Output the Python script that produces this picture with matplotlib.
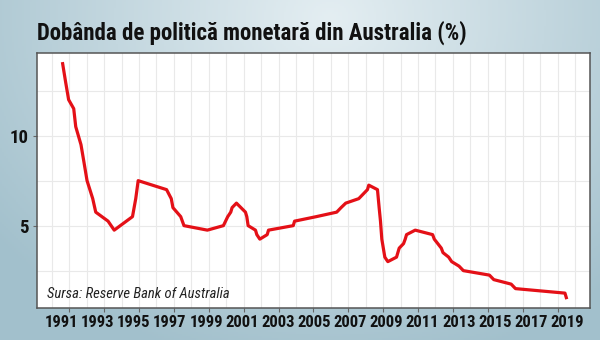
import matplotlib
matplotlib.use('Agg')
import matplotlib.pyplot as plt
import matplotlib.dates as mdates
import matplotlib.transforms as mtransforms
import numpy as np
import pandas as pd

# dates of each change in the cash rate target and the new level (%)
change_dates = ['1990-08-15', '1990-10-15', '1990-12-18', '1991-04-04', '1991-05-16',
                '1991-09-03', '1991-11-06', '1992-01-08', '1992-05-06', '1992-07-08',
                '1993-03-23', '1993-07-30', '1994-08-17', '1994-10-24', '1994-12-14',
                '1996-07-31', '1996-11-06', '1996-12-11', '1997-05-23', '1997-07-30',
                '1998-12-02', '1999-11-03', '2000-02-02', '2000-04-05', '2000-05-03',
                '2000-08-02', '2001-02-07', '2001-03-07', '2001-04-04', '2001-09-05',
                '2001-10-03', '2001-12-05', '2002-05-08', '2002-06-05', '2003-11-05',
                '2003-12-03', '2005-03-02', '2006-05-03', '2006-08-02', '2006-11-08',
                '2007-08-08', '2007-11-07', '2008-02-06', '2008-03-05', '2008-09-03',
                '2008-10-08', '2008-11-05', '2008-12-03', '2009-02-04', '2009-04-08',
                '2009-10-07', '2009-11-04', '2009-12-02', '2010-03-03', '2010-04-07',
                '2010-05-05', '2010-11-03', '2011-11-02', '2011-12-07', '2012-05-02',
                '2012-06-06', '2012-10-03', '2012-12-05', '2013-05-08', '2013-08-07',
                '2015-02-04', '2015-05-06', '2016-05-04', '2016-08-03', '2019-06-05',
                '2019-07-03']
rate = [14.0, 13.0, 12.0, 11.5, 10.5,
        9.5, 8.5, 7.5, 6.5, 5.75,
        5.25, 4.75, 5.5, 6.5, 7.5,
        7.0, 6.5, 6.0, 5.5, 5.0,
        4.75, 5.0, 5.5, 5.75, 6.0,
        6.25, 5.75, 5.5, 5.0, 4.75,
        4.5, 4.25, 4.5, 4.75, 5.0,
        5.25, 5.5, 5.75, 6.0, 6.25,
        6.5, 6.75, 7.0, 7.25, 7.0,
        6.0, 5.25, 4.25, 3.25, 3.0,
        3.25, 3.5, 3.75, 4.0, 4.25,
        4.5, 4.75, 4.5, 4.25, 3.75,
        3.5, 3.25, 3.0, 2.75, 2.5,
        2.25, 2.0, 1.75, 1.5, 1.25,
        1.0]
label_years = list(range(1991, 2020, 2))
y_ticks = [5, 10]

fam = ['Roboto Condensed', 'DejaVu Sans']
plt.rcParams['font.family'] = fam
plt.rcParams['font.stretch'] = 'condensed'

fig = plt.figure(figsize=(6, 3.4), dpi=100)

# background gradient, light near the top centre and bluer at the edges
bg = fig.add_axes([0, 0, 1, 1], zorder=-10)
gx, gy = np.meshgrid(np.linspace(0, 1, 300), np.linspace(0, 1, 170))
dist = np.sqrt(((gx - 0.55) / 0.72) ** 2 + ((gy - 0.05) / 1.05) ** 2)
dist = np.clip(dist, 0, 1)
c_in = np.array([0xe4, 0xee, 0xf2]) / 255
c_out = np.array([0xa2, 0xc0, 0xcc]) / 255
img = c_in[None, None, :] * (1 - dist[..., None]) + c_out[None, None, :] * dist[..., None]
bg.imshow(img, aspect='auto', extent=[0, 1, 0, 1], origin='upper')
bg.axis('off')

ax = fig.add_axes([0.0612, 0.095, 0.9221, 0.750])
x = pd.to_datetime(change_dates)
ax.plot(x, rate, color='#e41017', linewidth=2.3, solid_joinstyle='round', zorder=3)

ax.set_xlim(pd.Timestamp('1989-02-18'), pd.Timestamp('2020-11-10'))
ax.set_ylim(0.44, 14.61)

tick_pos = mdates.date2num([pd.Timestamp(f'{y}-01-01') for y in label_years])
ax.set_xticks(tick_pos)
ax.set_xticklabels([])
ax.xaxis.set_minor_locator(mdates.YearLocator(1, month=1, day=1))
ax.set_yticks(y_ticks)
ax.set_yticks([2.5, 7.5, 12.5], minor=True)
ax.grid(True, which='both', color='#e9e9e9', linewidth=0.8, zorder=0)
ax.set_axisbelow(True)

ax.tick_params(axis='x', which='major', length=3, width=0.8, color='#666666')
ax.tick_params(axis='x', which='minor', length=0)
ax.tick_params(axis='y', which='major', length=3, width=0.8, color='#666666',
               labelsize=13.5, pad=3)
ax.tick_params(axis='y', which='minor', length=0)
for lab in ax.get_yticklabels():
    lab.set_fontweight('bold')
    lab.set_color('#111111')

# the year labels sit on a slightly wider spacing than the ticks
blend = mtransforms.blended_transform_factory(ax.transData, ax.transAxes)
for i, (pos, yr) in enumerate(zip(tick_pos, label_years)):
    shift_px = -7.6 + i * 17.0 / (len(label_years) - 1)
    tr = blend + mtransforms.ScaledTranslation(shift_px / 100, -0.07, fig.dpi_scale_trans)
    ax.text(pos, 0, str(yr), transform=tr, ha='center', va='top',
            fontsize=12, fontweight='bold', color='#111111')

for sp in ax.spines.values():
    sp.set_color('#555555')
    sp.set_linewidth(1.1)
ax.set_facecolor('white')

ax.text(0.018, 0.055, 'Sursa: Reserve Bank of Australia', transform=ax.transAxes,
        fontsize=10.5, style='italic', color='#222222', va='center', ha='left')

fig.text(0.062, 0.905, 'Dobânda de politică monetară din Australia (%)',
         fontsize=16.5, fontweight='bold', color='#111111', va='center', ha='left')

fig.savefig('out.png', dpi=100)
